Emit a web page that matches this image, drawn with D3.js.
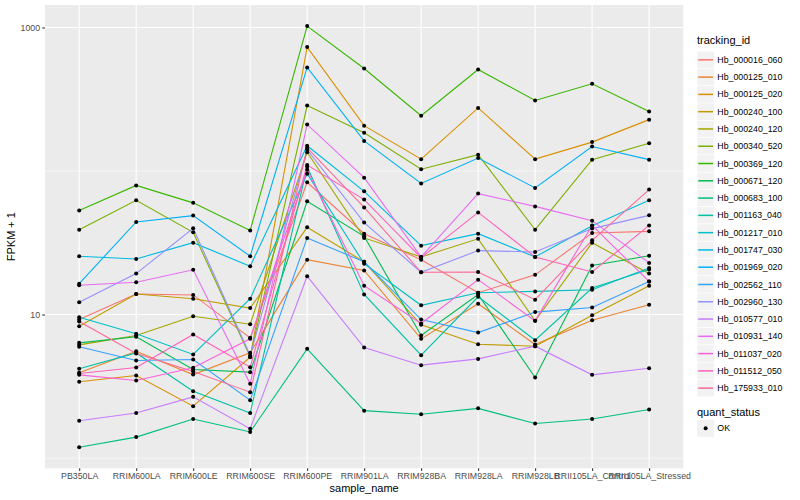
<!DOCTYPE html>
<html>
<head>
<meta charset="utf-8">
<script src="https://cdn.jsdelivr.net/npm/d3@7"></script>
<style>
  body { margin: 0; background: #fff; }
  text { font-family: "Liberation Sans", Arial, Helvetica, sans-serif; }
</style>
</head>
<body>
<div id="stage"></div>
<script>

// samples on the x axis
var samples = ["PB350LA", "RRIM600LA", "RRIM600LE", "RRIM600SE", "RRIM600PE",
  "RRIM901LA", "RRIM928BA", "RRIM928LA", "RRIM928LB", "RRII105LA_Control", "RRII105LA_Stressed"];

var trackingIds = ["Hb_000016_060", "Hb_000125_010", "Hb_000125_020", "Hb_000240_100",
  "Hb_000240_120", "Hb_000340_520", "Hb_000369_120", "Hb_000671_120", "Hb_000683_100",
  "Hb_001163_040", "Hb_001217_010", "Hb_001747_030", "Hb_001969_020", "Hb_002562_110",
  "Hb_002960_130", "Hb_010577_010", "Hb_010931_140", "Hb_011037_020", "Hb_011512_050",
  "Hb_175933_010"];

// FPKM + 1, one value per sample
var hb000016_060 = [9.23, 13.9, 13.7, 6.88, 83.4, 36.6, 24.1, 14.2, 18.9, 37.0, 38.0];
var hb000125_010 = [3.93, 5.55, 3.82, 5.41, 24.1, 20.3, 6.77, 11.9, 6.18, 9.13, 11.7];
var hb000125_020 = [3.40, 3.76, 2.30, 5.04, 730, 207, 121, 275, 121, 159, 228];
var hb000240_100 = [8.29, 13.9, 12.9, 11.1, 40.5, 23.3, 8.48, 6.21, 6.02, 9.89, 15.9];
var hb000240_120 = [6.15, 7.14, 9.73, 8.56, 135, 34.2, 25.2, 33.7, 9.04, 31.6, 19.3];
var hb000340_520 = [39, 62.5, 37.4, 5.08, 286, 185, 103, 130, 39, 120, 156];
var hb000369_120 = [53, 79.4, 60, 38.5, 1023, 518, 243, 510, 310, 405, 260];
var hb000671_120 = [6.35, 7.0, 4.14, 3.97, 61.5, 35.1, 7.14, 13.8, 3.64, 22.0, 25.7];
var hb000683_100 = [1.19, 1.40, 1.87, 1.52, 5.77, 2.14, 2.02, 2.22, 1.74, 1.87, 2.18];
var hb001163_040 = [4.19, 5.4, 2.92, 2.06, 107, 13.8, 5.21, 13.3, 6.63, 15.3, 20.6];
var hb001217_010 = [9.57, 7.34, 5.27, 12.9, 95.8, 22.6, 11.6, 14.2, 14.5, 14.9, 21.1];
var hb001747_030 = [25.5, 24.4, 31.7, 21.7, 150, 72.2, 30.2, 36.6, 25.2, 41.6, 62.5];
var hb001969_020 = [16.4, 44.2, 48.9, 25.5, 527, 162, 82, 123, 76.2, 148, 120];
var hb002562_110 = [5.96, 4.78, 4.86, 2.53, 34.2, 23.3, 9.23, 7.49, 10.4, 11.2, 17.0];
var hb002960_130 = [12.2, 19.3, 39.9, 5.18, 141, 43.7, 19.7, 27.9, 27.3, 39.7, 49.1];
var hb010577_010 = [1.82, 2.06, 2.67, 1.60, 18.5, 5.89, 4.44, 4.91, 6.02, 3.80, 4.23];
var hb010931_140 = [16.0, 16.8, 20.5, 3.29, 211, 89.9, 25.2, 69.6, 56.7, 45.1, 22.9];
var hb011037_020 = [3.80, 3.47, 4.26, 6.77, 102, 15.9, 8.66, 17.5, 9.04, 41.8, 17.0];
var hb011512_050 = [3.88, 4.28, 7.26, 4.30, 110, 63.2, 24.9, 51.5, 25.2, 19.8, 41.8];
var hb175933_010 = [8.94, 5.35, 4.01, 2.88, 145, 55.8, 19.7, 19.8, 12.7, 32.9, 74.2];

var seriesValues = [hb000016_060, hb000125_010, hb000125_020, hb000240_100, hb000240_120,
  hb000340_520, hb000369_120, hb000671_120, hb000683_100, hb001163_040, hb001217_010,
  hb001747_030, hb001969_020, hb002562_110, hb002960_130, hb010577_010, hb010931_140,
  hb011037_020, hb011512_050, hb175933_010];

var yBreaks = [10, 1000];
var yMinor = [1, 100];

// ggplot hue palette is polar LUV, not Lab, so convert by hand
function hclLuv(h, c, l){
  var hr = h * Math.PI / 180;
  var U = c * Math.cos(hr), V = c * Math.sin(hr);
  var Xn = 95.047, Yn = 100, Zn = 108.883;
  var un = 4 * Xn / (Xn + 15 * Yn + 3 * Zn), vn = 9 * Yn / (Xn + 15 * Yn + 3 * Zn);
  var Y = Yn * Math.pow((l + 16) / 116, 3);
  var u = U / (13 * l) + un, v = V / (13 * l) + vn;
  var X = Y * 9 * u / (4 * v);
  var Z = Y * (12 - 3 * u - 20 * v) / (4 * v);
  X /= 100; Y /= 100; Z /= 100;
  var rgb = [
     3.240479 * X - 1.537150 * Y - 0.498535 * Z,
    -0.969256 * X + 1.875992 * Y + 0.041556 * Z,
     0.055648 * X - 0.204043 * Y + 1.057311 * Z
  ].map(function(t){
    t = t <= 0.0031308 ? 12.92 * t : 1.055 * Math.pow(t, 1 / 2.4) - 0.055;
    return Math.round(Math.max(0, Math.min(1, t)) * 255);
  });
  return d3.rgb(rgb[0], rgb[1], rgb[2]).formatHex();
}

var colours = trackingIds.map(function(d, i){ return hclLuv(15 + 360 * i / trackingIds.length, 100, 65); });

var W = 800, H = 500;
var panel = {left: 45, right: 683.3, top: 5, bottom: 468.3};

var svg = d3.select("#stage").append("svg").attr("width", W).attr("height", H);
svg.append("rect").attr("width", W).attr("height", H).attr("fill", "#fff");

// log scale with ggplot's 5% expansion done in log space
var all = d3.merge(seriesValues);
var lo = Math.log10(d3.min(all)), hi = Math.log10(d3.max(all));
var pad = (hi - lo) * 0.05;
var y = d3.scaleLog().domain([Math.pow(10, lo - pad), Math.pow(10, hi + pad)]).range([panel.bottom, panel.top]);
var x = d3.scalePoint().domain(samples).range([panel.left, panel.right]).padding(0.6);

svg.append("rect")
  .attr("x", panel.left).attr("y", panel.top)
  .attr("width", panel.right - panel.left).attr("height", panel.bottom - panel.top)
  .attr("fill", "#EBEBEB");

var grid = svg.append("g");
grid.selectAll(".minor").data(yMinor).enter().append("line")
  .attr("x1", panel.left).attr("x2", panel.right)
  .attr("y1", function(d){ return y(d); }).attr("y2", function(d){ return y(d); })
  .attr("stroke", "#fff").attr("stroke-width", 0.55);
grid.selectAll(".major").data(yBreaks).enter().append("line")
  .attr("x1", panel.left).attr("x2", panel.right)
  .attr("y1", function(d){ return y(d); }).attr("y2", function(d){ return y(d); })
  .attr("stroke", "#fff").attr("stroke-width", 1.1);
grid.selectAll(".vx").data(samples).enter().append("line")
  .attr("y1", panel.top).attr("y2", panel.bottom)
  .attr("x1", function(d){ return x(d); }).attr("x2", function(d){ return x(d); })
  .attr("stroke", "#fff").attr("stroke-width", 1.1);

// lines
var line = d3.line()
  .x(function(d, i){ return x(samples[i]); })
  .y(function(d){ return y(d); });

svg.append("g").selectAll("path").data(seriesValues).enter().append("path")
  .attr("d", line)
  .attr("fill", "none")
  .attr("stroke", function(d, i){ return colours[i]; })
  .attr("stroke-width", 1.1);

// points
var pts = [];
seriesValues.forEach(function(vals){
  vals.forEach(function(v, i){ pts.push({s: samples[i], v: v}); });
});
svg.append("g").selectAll("circle").data(pts).enter().append("circle")
  .attr("cx", function(d){ return x(d.s); })
  .attr("cy", function(d){ return y(d.v); })
  .attr("r", 2)
  .attr("fill", "#000");

// axes
var yAxis = svg.append("g").attr("transform", "translate(" + panel.left + ",0)")
  .call(d3.axisLeft(y).tickValues(yBreaks).tickFormat(d3.format("d")).tickSize(2.75).tickPadding(2.2));
var xAxis = svg.append("g").attr("transform", "translate(0," + panel.bottom + ")")
  .call(d3.axisBottom(x).tickSize(2.75).tickPadding(2.2));
[yAxis, xAxis].forEach(function(a){
  a.select(".domain").remove();
  a.selectAll(".tick line").attr("stroke", "#333").attr("stroke-width", 1.05);
  a.selectAll(".tick text").attr("fill", "#4D4D4D").style("font-size", "8.8px")
    .style("font-family", "'Liberation Sans', Arial, sans-serif");
});

svg.append("text")
  .attr("x", (panel.left + panel.right) / 2).attr("y", 492)
  .attr("text-anchor", "middle").style("font-size", "11px").text("sample_name");
svg.append("text")
  .attr("transform", "translate(15," + ((panel.top + panel.bottom) / 2) + ") rotate(-90)")
  .attr("text-anchor", "middle").style("font-size", "11px").text("FPKM + 1");

// legend
var lg = svg.append("g").attr("transform", "translate(697,0)");
var keyH = 17.28, keyTop = 51.2;
lg.append("text").attr("x", 0).attr("y", 43.8).style("font-size", "11px").text("tracking_id");
var keys = lg.selectAll(".key").data(trackingIds).enter().append("g")
  .attr("transform", function(d, i){ return "translate(0," + (keyTop + i * keyH) + ")"; });
keys.append("rect").attr("width", 17.28).attr("height", keyH).attr("fill", "#F2F2F2")
  .attr("stroke", "#fff").attr("stroke-width", 0.6);
keys.append("line").attr("x1", 1.2).attr("x2", 16)
  .attr("y1", keyH / 2).attr("y2", keyH / 2)
  .attr("stroke", function(d, i){ return colours[i]; }).attr("stroke-width", 1.5);
keys.append("text").attr("x", 20.3).attr("y", keyH / 2 + 3.1)
  .style("font-size", "8.8px").attr("fill", "#000").text(function(d){ return d; });

lg.append("text").attr("x", 0).attr("y", 415.6).style("font-size", "11px").text("quant_status");
var ok = lg.append("g").attr("transform", "translate(0,419.7)");
ok.append("rect").attr("width", 17.28).attr("height", keyH).attr("fill", "#F2F2F2");
ok.append("circle").attr("cx", 8.64).attr("cy", keyH / 2).attr("r", 2).attr("fill", "#000");
ok.append("text").attr("x", 20.3).attr("y", keyH / 2 + 3.1).style("font-size", "8.8px").text("OK");

</script>
</body>
</html>
